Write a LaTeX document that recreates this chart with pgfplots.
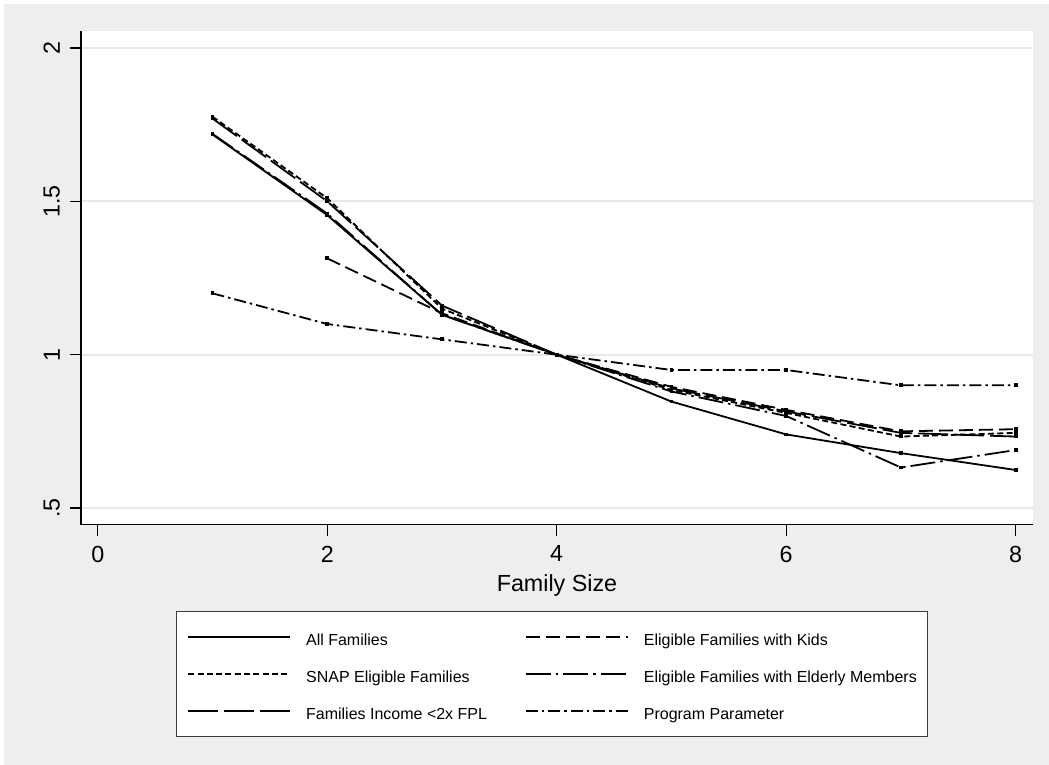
\documentclass[border=0pt]{standalone}
\usepackage{pgfplots}
\pgfplotsset{compat=1.18}
\usepackage{fontspec}
\setmainfont{Liberation Sans}
\definecolor{bgc}{RGB}{238,238,238}
\definecolor{gridc}{RGB}{232,232,232}
\definecolor{legc}{RGB}{60,60,60}
\begin{document}
\begin{tikzpicture}[x=1pt,y=1pt]
\fill[white] (0,0) rectangle (1049,765);
\fill[bgc] (4,0) rectangle (1049,761);
\begin{axis}[
  at={(81pt,240.3pt)}, anchor=south west,
  scale only axis, width=952pt, height=493.7pt,
  xmin=-0.146, xmax=8.151, ymin=0.4456, ymax=2.0554,
  axis background/.style={fill=white},
  axis x line*=bottom, axis y line*=left,
  axis line style={line width=1.2pt, black, -},
  tick align=outside, major tick length=11pt,
  every tick/.style={line width=1.2pt, black},
  xtick={0,2,4,6,8},
  ytick={0.5,1,1.5,2}, yticklabels={.5,1,1.5,2},
  ymajorgrids, major grid style={color=gridc, line width=2.2pt},
  /pgf/number format/assume math mode=true,
  tick label style={font=\fontsize{23.3}{28}\selectfont},
  yticklabel style={xshift=-10pt, rotate=90, anchor=south, inner sep=0pt},
  xticklabel style={anchor=north, inner sep=0pt, yshift=-10pt},
  xlabel={Family Size},
  xlabel style={font=\fontsize{23.3}{28}\selectfont, at={(axis description cs:0.5,0)}, anchor=base, yshift=-67pt},
  every axis plot/.append style={line width=1.8pt, black, mark=square*, mark size=1pt, mark options={solid}},
  legend columns=2,
  legend cell align=left,
  legend image code/.code={\draw[#1, mark=none] (0pt,0pt) -- (102pt,0pt);},
  legend style={at={(axis description cs:0.0998,-0.1748)}, anchor=north west,
    draw=legc, line width=1.2pt, fill=white,
    font=\fontsize{16}{19}\selectfont,
    inner xsep=10.7pt, inner ysep=14pt, row sep=14pt,
    nodes={inner sep=0pt, text height=20pt, text depth=3pt},
    /tikz/every odd column/.append style={column sep=15pt},
    /tikz/every even column/.append style={column sep=38pt}},
]
% All Families (solid)
\addplot[solid] coordinates {(1,1.718) (2,1.455) (3,1.13) (4,1.0) (5,0.847) (6,0.740) (7,0.679) (8,0.624)};
\addlegendentry{All Families}
% Eligible Families with Kids
\addplot[dash pattern=on 14pt off 6pt] coordinates {(2,1.314) (3,1.135) (4,1.0) (5,0.895) (6,0.82) (7,0.75) (8,0.757)};
\addlegendentry{Eligible Families with Kids}
% SNAP Eligible Families
\addplot[dash pattern=on 6pt off 3.3pt] coordinates {(1,1.776) (2,1.51) (3,1.15) (4,1.0) (5,0.885) (6,0.81) (7,0.733) (8,0.745)};
\addlegendentry{SNAP Eligible Families}
% Eligible Families with Elderly Members
\addplot[dash pattern=on 25pt off 5pt on 2.5pt off 5pt] coordinates {(1,1.72) (2,1.46) (3,1.13) (4,1.0) (5,0.88) (6,0.80) (7,0.632) (8,0.689)};
\addlegendentry{Eligible Families with Elderly Members\hspace{16pt}}
% Families Income <2x FPL
\addplot[dash pattern=on 30pt off 6pt] coordinates {(1,1.77) (2,1.50) (3,1.16) (4,1.0) (5,0.89) (6,0.815) (7,0.745) (8,0.733)};
\addlegendentry{Families Income <2x FPL}
% Program Parameter
\addplot[dash pattern=on 12pt off 4pt on 2.5pt off 4pt] coordinates {(1,1.2) (2,1.1) (3,1.05) (4,1.0) (5,0.95) (6,0.95) (7,0.9) (8,0.9)};
\addlegendentry{Program Parameter}
\end{axis}
\end{tikzpicture}
\end{document}
